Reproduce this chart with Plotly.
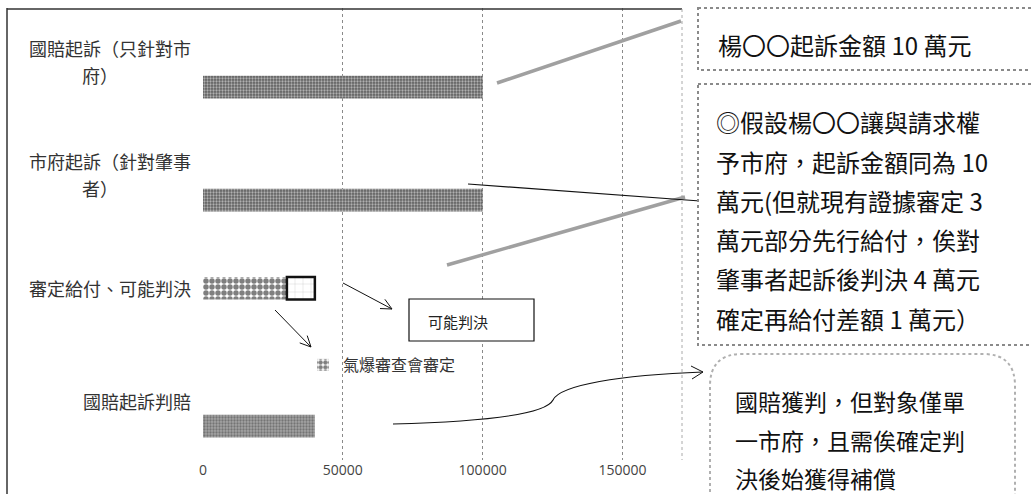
import math
import plotly.graph_objects as go

# ---------------- data ----------------
categories = ["國賠起訴（只針對市府）", "市府起訴（針對肇事者）", "審定給付、可能判決", "國賠起訴判賠"]
category_lines = [["國賠起訴（只針對市", "府）"], ["市府起訴（針對肇事", "者）"], ["審定給付、可能判決"], ["國賠起訴判賠"]]
claim_values = [100000, 100000, None, 40000]
review_values = [None, None, 30000, None]      # 氣爆審查會審定
possible_values = [None, None, 10000, None]    # 可能判決
x_ticks = [0, 50000, 100000, 150000]
legend_name = "氣爆審查會審定"
box_label = "可能判決"
note1 = ["楊〇〇起訴金額 10 萬元"]
note2 = ["◎假設楊〇〇讓與請求權", "予市府，起訴金額同為 10", "萬元(但就現有證據審定 3",
         "萬元部分先行給付，俟對", "肇事者起訴後判決 4 萬元", "確定再給付差額 1 萬元）"]
note3 = ["國賠獲判，但對象僅單", "一市府，且需俟確定判", "決後始獲得補償"]

W, H = 1031, 494
L, R, T, B = 203, 682, 8, 460
XMAX = 171300
FONT = "Noto Sans CJK TC"


def px(x):
    return (x - L) / (R - L)


def py(y):
    return (B - y) / (B - T)


fig = go.Figure()

fig.add_trace(go.Bar(
    y=categories, x=claim_values, orientation="h",
    offset=0.1, width=0.2,
    marker=dict(color=["#606060", "#606060", "#606060", "#a4a4a4"],
                line=dict(width=0),
                pattern=dict(shape=".", fgcolor="#262626", bgcolor=["#7c7c7c", "#7c7c7c", "#7c7c7c", "#bdbdbd"],
                             size=3, solidity=0.45)),
    showlegend=False, hoverinfo="x+y",
))
fig.add_trace(go.Bar(
    y=categories, x=review_values, orientation="h", name=legend_name,
    offset=-0.12, width=0.2,
    marker=dict(color="white", line=dict(width=0),
                pattern=dict(shape=".", fgcolor="#000000", bgcolor="white", size=6, solidity=0.65)),
    showlegend=True,
))
fig.add_trace(go.Bar(
    y=categories, x=possible_values, base=[None, None, 30000, None], orientation="h",
    offset=-0.12, width=0.2,
    marker=dict(color="white", line=dict(width=2.5, color="#111111"),
                pattern=dict(shape="+", fgcolor="#999999", bgcolor="white", size=8, solidity=0.1)),
    showlegend=False,
))

shapes = []
annotations = []

# outer frame
shapes.append(dict(type="line", xref="paper", yref="paper", x0=px(7), x1=px(7), y0=py(8), y1=py(494),
                   line=dict(color="#333", width=1.5)))
shapes.append(dict(type="line", xref="paper", yref="paper", x0=px(7), x1=px(682), y0=py(9), y1=py(9),
                   line=dict(color="#333", width=1.5)))
shapes.append(dict(type="line", xref="paper", yref="paper", x0=px(682), x1=px(682), y0=py(9), y1=py(460),
                   line=dict(color="#aaa", width=1, dash="dot")))

# category labels
for c, lines in zip(categories, category_lines):
    if len(lines) == 1:
        annotations.append(dict(xref="paper", yref="y", x=px(193), y=c, yshift=3, text=lines[0],
                                showarrow=False, xanchor="right", yanchor="middle",
                                font=dict(family=FONT, size=18, color="#333")))
    else:
        annotations.append(dict(xref="paper", yref="y", x=px(193), y=c, yshift=17, text=lines[0],
                                showarrow=False, xanchor="right", yanchor="middle",
                                font=dict(family=FONT, size=18, color="#333")))
        annotations.append(dict(xref="paper", yref="y", x=px(100), y=c, yshift=-10, text=lines[1],
                                showarrow=False, xanchor="center", yanchor="middle",
                                font=dict(family=FONT, size=18, color="#333")))


def seg(x0, y0, x1, y1, color="#111", width=1, dash="solid"):
    shapes.append(dict(type="line", xref="paper", yref="paper", x0=px(x0), y0=py(y0), x1=px(x1), y1=py(y1),
                       line=dict(color=color, width=width, dash=dash)))


def arrow(x0, y0, x1, y1, color="#111", width=1):
    seg(x0, y0, x1, y1, color, width)
    ang = math.atan2(y1 - y0, x1 - x0)
    for d in (0.45, -0.45):
        a = ang + math.pi - d
        seg(x1, y1, x1 + 12 * math.cos(a), y1 + 12 * math.sin(a), color, width)


# grey connectors
seg(497, 83, 681, 21, color="#a0a0a0", width=3.5)
seg(447, 265, 685, 197, color="#a0a0a0", width=3.5)
# black connector to box 2
seg(468, 184, 700, 201, color="#111", width=1.2)
# arrows near the stacked bar
arrow(343, 283, 392, 309)
arrow(275, 310, 311, 347)

# box "可能判決"
shapes.append(dict(type="rect", xref="paper", yref="paper", x0=px(409), x1=px(534), y0=py(299), y1=py(341),
                   line=dict(color="#111", width=1.2), fillcolor="white"))
annotations.append(dict(xref="paper", yref="paper", x=px(458), y=py(321), text=box_label, showarrow=False,
                        xanchor="center", yanchor="middle",
                        font=dict(family=FONT, size=15, color="#222")))

# curved connector to box 3
path = "M {} {} C {} {}, {} {}, {} {} C {} {}, {} {}, {} {}".format(
    px(393), py(424), px(470), py(422), px(545), py(416), px(553), py(400),
    px(560), py(385), px(620), py(375), px(703), py(372))
shapes.append(dict(type="path", xref="paper", yref="paper", path=path, line=dict(color="#111", width=1.2)))
seg(703, 372, 691, 366, color="#111", width=1)
seg(703, 372, 692, 379, color="#111", width=1)

# note boxes
shapes.append(dict(type="rect", xref="paper", yref="paper", x0=px(698), x1=px(1045), y0=py(8), y1=py(70),
                   line=dict(color="#8a8a8a", width=2, dash="dot"), fillcolor="white"))
shapes.append(dict(type="rect", xref="paper", yref="paper", x0=px(698), x1=px(1045), y0=py(84), y1=py(345),
                   line=dict(color="#8a8a8a", width=2, dash="dot"), fillcolor="white"))
x0b, x1b, y0b, rr = 710, 1015, 354, 32
path3 = ("M {a} {b} L {a} {c} Q {a} {d}, {e} {d} L {f} {d} Q {g} {d}, {g} {c} L {g} {b}").format(
    a=px(x0b), b=py(510), c=py(y0b + rr), d=py(y0b), e=px(x0b + rr), f=px(x1b - rr), g=px(x1b))
shapes.append(dict(type="path", xref="paper", yref="paper", path=path3,
                   line=dict(color="#b0b0b0", width=2, dash="dot"), fillcolor="white"))

for i, t in enumerate(note1):
    annotations.append(dict(xref="paper", yref="paper", x=px(716), y=py(45 + 40 * i), text=t, showarrow=False,
                            xanchor="left", yanchor="middle", font=dict(family=FONT, size=24, color="#111")))
for i, t in enumerate(note2):
    annotations.append(dict(xref="paper", yref="paper", x=px(714), y=py(122 + 39.2 * i), text=t, showarrow=False,
                            xanchor="left", yanchor="middle", font=dict(family=FONT, size=24, color="#111")))
for i, t in enumerate(note3):
    annotations.append(dict(xref="paper", yref="paper", x=px(733), y=py(401 + 38.5 * i), text=t, showarrow=False,
                            xanchor="left", yanchor="middle", font=dict(family=FONT, size=23, color="#111")))

fig.update_layout(
    width=W, height=H,
    margin=dict(l=L, r=W - R, t=T, b=H - B),
    paper_bgcolor="white", plot_bgcolor="white",
    barmode="overlay",
    font=dict(family=FONT, color="#444"),
    xaxis=dict(range=[0, XMAX], tickvals=x_ticks, ticktext=[str(v) for v in x_ticks],
               showgrid=True, gridcolor="#8a8a8a", griddash="dot", gridwidth=1,
               zeroline=False,
               tickfont=dict(family="Open Sans", size=14, color="#444"), ticks="", fixedrange=True),
    yaxis=dict(categoryorder="array", categoryarray=categories, range=[3.5, -0.5],
               showticklabels=False, showgrid=False, zeroline=False, fixedrange=True),
    legend=dict(x=px(303), y=py(365), xanchor="left", yanchor="middle", bgcolor="rgba(0,0,0,0)",
                font=dict(family=FONT, size=16, color="#333"), itemwidth=30),
    shapes=shapes,
    annotations=annotations,
)

fig.write_html("out.html", config={"displayModeBar": False},
               post_script="document.body.style.margin='0';document.body.style.overflow='hidden';")
